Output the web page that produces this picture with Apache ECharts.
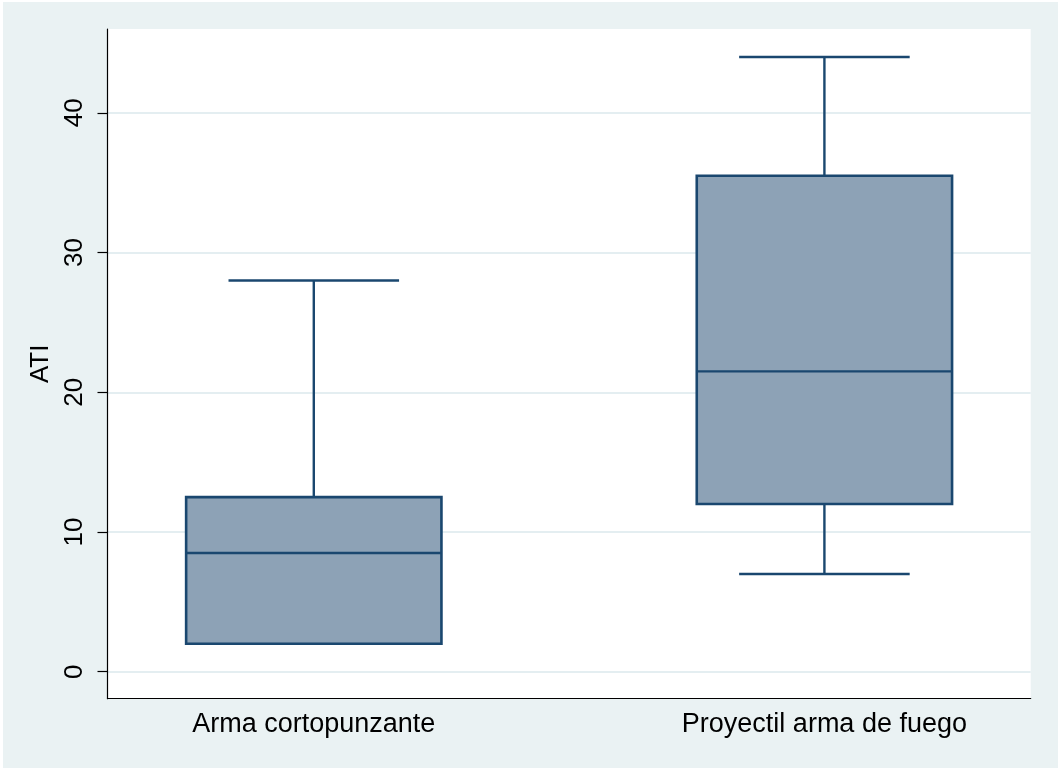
<!DOCTYPE html>
<html>
<head>
<meta charset="utf-8">
<script src="https://cdn.jsdelivr.net/npm/echarts@6/dist/echarts.min.js"></script>
<style>
  html, body { margin: 0; padding: 0; background: #ffffff; overflow: hidden; }
  #frame { position: absolute; left: 3px; top: 2px; width: 1055px; height: 766px; background: #eaf2f3; }
  #chart { width: 1055px; height: 766px; }
</style>
</head>
<body>
<div id="frame"><div id="chart"></div></div>
<script>
// categories and box summaries (min, q1, median, q3, max)
const categories = ['Arma cortopunzante', 'Proyectil arma de fuego']
const lowerWhisker = [2, 7]
const q1 = [2, 12]
const median = [8.5, 21.5]
const q3 = [12.5, 35.5]
const upperWhisker = [28, 44]
const yTicks = [0, 10, 20, 30, 40]

const navy = '#1a476f'
const boxFill = '#8da2b6'
const boxHalf = 0.25
const capHalf = 0.167

const boxData = categories.map((c, i) => (
  [i + 1, lowerWhisker[i], q1[i], median[i], q3[i], upperWhisker[i]]
))

const renderBox = (params, api) => {
  const x = api.value(0)
  const pt = (dx, v) => api.coord([x + dx, v])
  const lo = api.value(1)
  const b1 = api.value(2)
  const md = api.value(3)
  const b3 = api.value(4)
  const hi = api.value(5)
  const lineStyle = { stroke: navy, lineWidth: 2.4 }
  const seg = (a, b) => ({
    type: 'line',
    shape: { x1: a[0], y1: a[1], x2: b[0], y2: b[1] },
    style: lineStyle
  })
  const tl = pt(-boxHalf, b3)
  const br = pt(boxHalf, b1)
  const children = []
  // whiskers + caps
  children.push(seg(pt(0, b3), pt(0, hi)))
  children.push(seg(pt(-capHalf, hi), pt(capHalf, hi)))
  if (lo < b1) {
    children.push(seg(pt(0, b1), pt(0, lo)))
    children.push(seg(pt(-capHalf, lo), pt(capHalf, lo)))
  }
  children.push({
    type: 'rect',
    shape: { x: tl[0], y: tl[1], width: br[0] - tl[0], height: br[1] - tl[1] },
    style: { fill: boxFill, stroke: navy, lineWidth: 2.6 }
  })
  children.push(seg(pt(-boxHalf, md), pt(boxHalf, md)))
  return { type: 'group', children }
}

const chart = echarts.init(document.getElementById('chart'), null, { renderer: 'canvas' })
const textFont = 'Liberation Sans, Arial, Helvetica, sans-serif'

chart.setOption({
  backgroundColor: '#eaf2f3',
  animation: false,
  grid: {
    left: 104.5,
    right: 27.3,
    top: 27,
    bottom: 69.3,
    show: true,
    backgroundColor: '#ffffff',
    borderWidth: 0
  },
  xAxis: {
    type: 'value',
    min: 0.596,
    max: 2.404,
    axisLine: { show: true, onZero: false, lineStyle: { color: '#000', width: 1.2 } },
    axisTick: { show: false },
    splitLine: { show: false },
    axisLabel: {
      customValues: categories.map((c, i) => i + 1),
      formatter: v => categories[Math.round(v) - 1] || '',
      color: '#000',
      fontFamily: textFont,
      fontSize: 27,
      margin: 12
    }
  },
  yAxis: {
    type: 'value',
    min: -1.93,
    max: 46.0,
    name: 'ATI',
    nameLocation: 'middle',
    nameRotate: 90,
    nameGap: 52,
    nameTextStyle: { color: '#000', fontFamily: textFont, fontSize: 26 },
    axisLine: { show: true, onZero: false, lineStyle: { color: '#000', width: 1.2 } },
    axisTick: { show: true, length: 10, customValues: yTicks, lineStyle: { color: '#000', width: 1.2 } },
    splitLine: { show: true, lineStyle: { color: '#e4eef1', width: 2 } },
    axisLabel: {
      customValues: yTicks,
      rotate: 90,
      color: '#000',
      fontFamily: textFont,
      fontSize: 26,
      margin: 20
    }
  },
  series: [{
    type: 'custom',
    renderItem: renderBox,
    encode: { x: 0, y: [1, 2, 3, 4, 5] },
    data: boxData,
    clip: false
  }]
})
</script>
</body>
</html>
